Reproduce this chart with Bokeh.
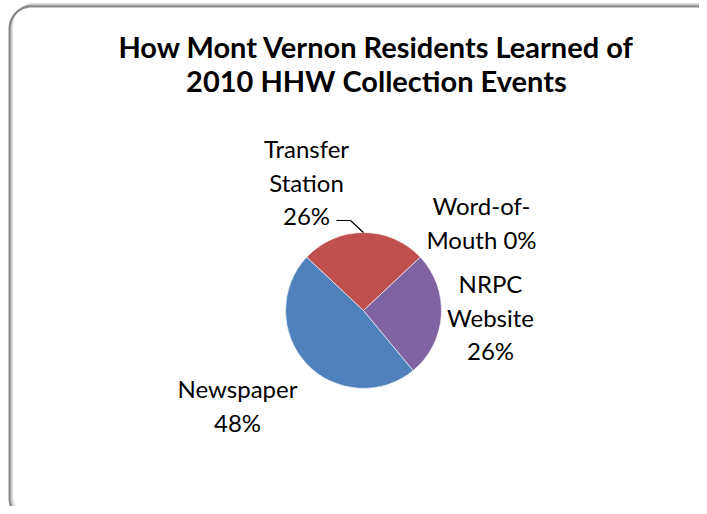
import numpy as np
from bokeh.plotting import figure
from bokeh.models import Range1d
from bokeh.core.properties import value
from bokeh.embed import file_html
from bokeh.resources import INLINE

# ---- data ----
categories = ["Newspaper", "Transfer Station", "Word-of-Mouth", "NRPC Website"]
percents = [48, 26, 0, 26]
colors = ["#4F81BD", "#C0504D", "#9BBB59", "#8064A2"]
title_lines = ["How Mont Vernon Residents Learned of", "2010 HHW Collection Events"]

# ---- layout (picture pixel coordinates) ----
W, H = 699, 506
def Y(py):
    return H - py

p = figure(width=W, height=H, output_backend="svg", toolbar_location=None,
           x_range=Range1d(0, W), y_range=Range1d(0, H), min_border=0)
p.axis.visible = False
p.grid.visible = False
p.outline_line_color = None
p.background_fill_color = "white"
p.border_fill_color = "white"

# rounded frame
def rounded_rect(x0, y0, x1, y1, r, n=20):
    xs, ys = [], []
    corners = [(x1 - r, y0 + r, -90, 0), (x1 - r, y1 - r, 0, 90),
               (x0 + r, y1 - r, 90, 180), (x0 + r, y0 + r, 180, 270)]
    for cx, cy, a0, a1 in corners:
        t = np.radians(np.linspace(a0, a1, n))
        xs.extend(cx + r * np.cos(t))
        ys.extend(cy + r * np.sin(t))
    xs.append(xs[0]); ys.append(ys[0])
    return np.array(xs), np.array(ys)

for off, alpha in [(3, 0.08), (2, 0.15), (1, 0.25)]:
    fx, fy = rounded_rect(9 + off, 6 - off, 718 + off, 520 - off, 22)
    p.line(fx, [Y(v) for v in fy], line_color="#000000", line_alpha=alpha, line_width=1.5)
fx, fy = rounded_rect(9, 6, 718, 520, 22)
p.line(fx, [Y(v) for v in fy], line_color="#898989", line_width=2)

# pie
cx, cy, R = 363, Y(310), 78
start_deg = 90 - 140.4
fr = np.array(percents, dtype=float) / sum(percents)
cum = np.concatenate([[0], np.cumsum(fr)])
starts = np.radians(start_deg) - cum[:-1] * 2 * np.pi
ends = np.radians(start_deg) - cum[1:] * 2 * np.pi
keep = fr > 0
p.wedge(x=cx, y=cy, radius=R,
        start_angle=list(starts[keep]), end_angle=list(ends[keep]),
        direction="clock", fill_color=[c for c, k in zip(colors, keep) if k],
        line_color="white", line_width=0.6)

# title
p.text(x=[376, 376], y=[Y(46), Y(80)], text=title_lines,
       text_font=value("Lato"), text_font_style="bold", text_font_size="29px",
       text_align="center", text_baseline="middle", text_color="black")

# data labels
label_text = {
    "Newspaper": [categories[0], f"{percents[0]}%"],
    "Transfer Station": ["Transfer", "Station", f"{percents[1]}%"],
    "Word-of-Mouth": ["Word-of-", f"Mouth {percents[2]}%"],
    "NRPC Website": ["NRPC", "Website", f"{percents[3]}%"],
}
label_pos = {
    "Newspaper": (237, 388),
    "Transfer Station": (306, 148),
    "Word-of-Mouth": (481, 205),
    "NRPC Website": (490, 283),
}
lx, ly, lt = [], [], []
for cat in categories:
    x0, y0 = label_pos[cat]
    for i, line in enumerate(label_text[cat]):
        lx.append(x0); ly.append(Y(y0 + i * 33.5)); lt.append(line)
p.text(x=lx, y=ly, text=lt, text_font=value("Lato"), text_font_size="24px",
       text_align="center", text_baseline="middle", text_color="black")

# leader line for Transfer Station
p.line([336, 350, 363], [Y(220), Y(220), Y(232)], line_color="black", line_width=1.2)

open("out.html", "w").write(file_html(p, INLINE))
